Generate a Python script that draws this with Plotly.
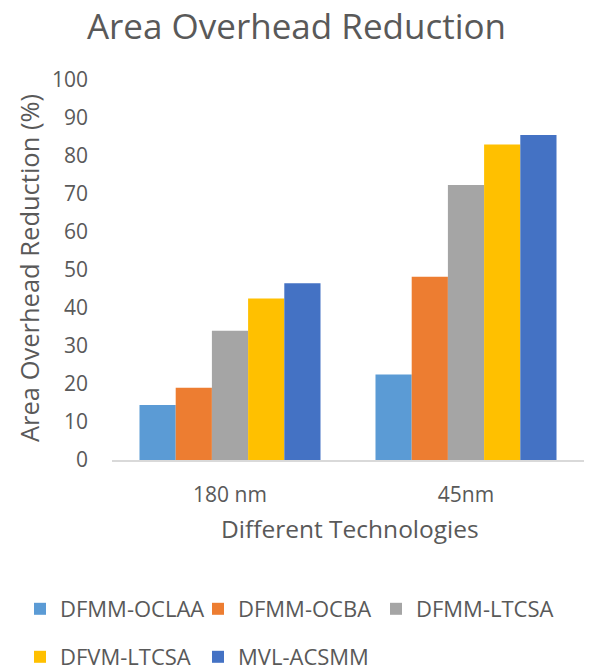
import plotly.graph_objects as go

categories = ["180 nm", "45nm"]
series_names = ["DFMM-OCLAA", "DFMM-OCBA", "DFMM-LTCSA", "DFVM-LTCSA", "MVL-ACSMM"]
dfmm_oclaa = [14.5, 22.5]
dfmm_ocba = [19.0, 48.2]
dfmm_ltcsa = [34.0, 72.4]
dfvm_ltcsa = [42.5, 83.0]
mvl_acsmm = [46.5, 85.5]
y_ticks = [0, 10, 20, 30, 40, 50, 60, 70, 80, 90, 100]

colors = ["#5B9BD5", "#ED7D31", "#A5A5A5", "#FFC000", "#4472C4"]
values = [dfmm_oclaa, dfmm_ocba, dfmm_ltcsa, dfvm_ltcsa, mvl_acsmm]
legends = ["legend", "legend", "legend", "legend2", "legend2"]

FONT = "Open Sans"
TXT = "#595959"

fig = go.Figure()
for name, vals, col, lg in zip(series_names, values, colors, legends):
    fig.add_trace(go.Bar(name=name, x=categories, y=vals, marker_color=col,
                         marker_line_width=0, legend=lg))

W, H = 593, 671
L, R, T, B = 112, 9, 80, 211
PW, PH = W - L - R, H - T - B


def px_x(p):
    return (p - L) / PW


def px_y(p):
    return (H - B - p) / PH


leg_common = dict(orientation="h", xref="paper", yref="paper",
                  xanchor="left", yanchor="middle",
                  entrywidth=133, entrywidthmode="pixels",
                  font=dict(size=22, color=TXT, family=FONT), itemclick=False)

fig.update_layout(
    width=W, height=H,
    margin=dict(l=L, r=R, t=T, b=B, autoexpand=False),
    paper_bgcolor="white", plot_bgcolor="white",
    barmode="group", bargap=0.233, bargroupgap=0,
    font=dict(family=FONT, color=TXT),
    title=dict(text="Area Overhead Reduction", x=0.5, xref="container", xanchor="center",
               y=1 - 27 / H, yref="container", yanchor="middle",
               font=dict(size=35, color=TXT, family=FONT)),
    xaxis=dict(showgrid=False, showline=True, linecolor="#D9D9D9", linewidth=1.5,
               ticks="", tickfont=dict(size=21, color=TXT), ticklabelstandoff=15),
    yaxis=dict(range=[0, 100], tickvals=y_ticks, showgrid=False, zeroline=False,
               showline=False, ticks="", tickfont=dict(size=21, color=TXT),
               ticklabelstandoff=23),
    legend=dict(x=px_x(20), y=px_y(609), **leg_common),
    legend2=dict(x=px_x(20), y=px_y(657), **leg_common),
    annotations=[
        dict(text="Different Technologies", xref="paper", yref="paper",
             x=px_x(350), y=px_y(528), xanchor="center", yanchor="middle",
             showarrow=False, font=dict(size=24.5, color=TXT, family=FONT)),
        dict(text="Area Overhead Reduction (%)", xref="paper", yref="paper",
             x=px_x(29), y=px_y(268), xanchor="center", yanchor="middle", textangle=-90,
             showarrow=False, font=dict(size=25.5, color=TXT, family=FONT)),
    ],
)

fig.write_html("out.html")
